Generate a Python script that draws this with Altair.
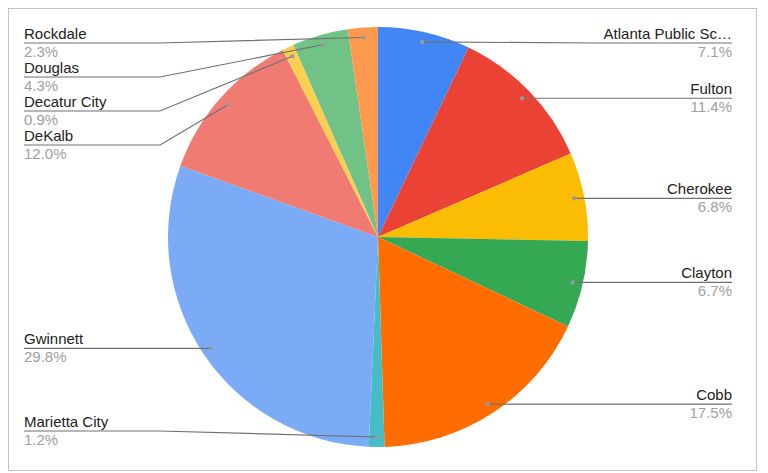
import altair as alt
import numpy as np
import pandas as pd

# ---- data ----
names = ["Atlanta Public Schools", "Fulton", "Cherokee", "Clayton", "Cobb",
         "Marietta City", "Gwinnett", "DeKalb", "Decatur City", "Douglas", "Rockdale"]
shares = [7.1, 11.4, 6.8, 6.7, 17.5, 1.2, 29.8, 12.0, 0.9, 4.3, 2.3]
colors = ["#4285F4", "#EA4335", "#FBBC04", "#34A853", "#FF6D01", "#46BDC6",
          "#7BAAF7", "#F07B72", "#FCD04F", "#71C287", "#FF994D"]

# ---- layout ----
W, H = 749, 463          # view size
CX, CY = 370, 229        # pie centre inside the view
R = 210                  # pie radius
DOT_R = 200              # radius of label anchor dots
LABEL_X = 354            # label edge distance from centre
KINK_X = 218             # where leader lines turn horizontal
TOP, BOTTOM, GAP = 194, -194, 34

n = len(names)
vals = np.array(shares, dtype=float)
cum = np.concatenate([[0], np.cumsum(vals)[:-1]])
mid = 2 * np.pi * (cum + vals / 2) / vals.sum()
dx = DOT_R * np.sin(mid)
dy = DOT_R * np.cos(mid)
side = np.where(dx >= 0, "right", "left")
ly = np.clip(dy, BOTTOM, TOP).astype(float)
for s in ("left", "right"):
    idx = sorted([i for i in range(n) if side[i] == s], key=lambda i: -dy[i])
    for a, b in zip(idx[:-1], idx[1:]):
        ly[b] = min(ly[b], ly[a] - GAP)
    rev = idx[::-1]
    for a, b in zip(rev[:-1], rev[1:]):
        ly[b] = max(ly[b], ly[a] + GAP)
sign = np.where(side == "right", 1, -1)

pie_df = pd.DataFrame({"name": names, "share": shares, "order": range(n)})
lab_df = pd.DataFrame({
    "name": names,
    "pct": [f"{v:.1f}%" for v in shares],
    "side": side,
    "dx": dx, "dy": dy,
    "lx": sign * LABEL_X, "ly": ly,
})
rows = []
for i in range(n):
    rows.append({"name": names[i], "k": 0, "x": dx[i], "y": dy[i]})
    rows.append({"name": names[i], "k": 1, "x": sign[i] * KINK_X, "y": ly[i]})
    rows.append({"name": names[i], "k": 2, "x": sign[i] * LABEL_X, "y": ly[i]})
line_df = pd.DataFrame(rows)

xsc = alt.Scale(domain=[-CX, W - CX], nice=False, zero=False)
ysc = alt.Scale(domain=[-(H - CY), CY], nice=False, zero=False)
FONT = "Liberation Sans, Arial, sans-serif"

pie = alt.Chart(pie_df).mark_arc(outerRadius=R).encode(
    theta=alt.Theta("share:Q", stack=True),
    color=alt.Color("name:N", scale=alt.Scale(domain=names, range=colors), legend=None),
    order=alt.Order("order:Q"),
    x=alt.XDatum(0, scale=xsc, axis=None),
    y=alt.YDatum(0, scale=ysc, axis=None),
)

leaders = alt.Chart(line_df).mark_line(color="#707070", strokeWidth=1.2).encode(
    x=alt.X("x:Q", scale=xsc, axis=None),
    y=alt.Y("y:Q", scale=ysc, axis=None),
    detail="name:N",
    order="k:Q",
)

dots = alt.Chart(lab_df).mark_circle(size=18, color="#9a9a9a", opacity=1).encode(
    x=alt.X("dx:Q", scale=xsc, axis=None),
    y=alt.Y("dy:Q", scale=ysc, axis=None),
)

layers = [pie, leaders, dots]
for s, al in (("right", "right"), ("left", "left")):
    base = alt.Chart(lab_df).transform_filter(alt.datum.side == s)
    layers.append(base.mark_text(align=al, baseline="alphabetic", dy=-4, font=FONT,
                                 fontSize=15, color="#222222", limit=131).encode(
        x=alt.X("lx:Q", scale=xsc, axis=None),
        y=alt.Y("ly:Q", scale=ysc, axis=None),
        text="name:N"))
    layers.append(base.mark_text(align=al, baseline="alphabetic", dy=13.5, font=FONT,
                                 fontSize=15, color="#a0a0a0").encode(
        x=alt.X("lx:Q", scale=xsc, axis=None),
        y=alt.Y("ly:Q", scale=ysc, axis=None),
        text="pct:N"))

chart = alt.layer(*layers).properties(
    width=W, height=H, padding=0, autosize="none", background="white"
).configure_view(stroke="#b0b0b0", strokeWidth=1.5)

chart.save("out.html", embed_options={"renderer": "svg", "actions": False})
